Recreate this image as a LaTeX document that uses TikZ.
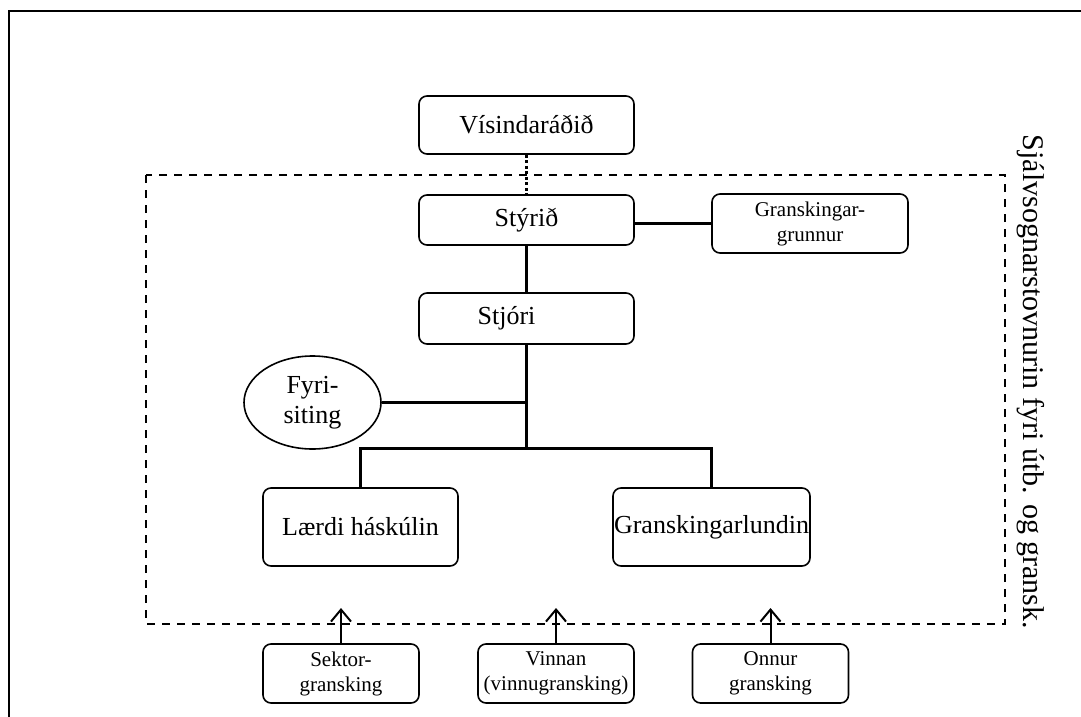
\documentclass[tikz,border=0pt]{standalone}
\usepackage{fontspec}
\setmainfont{Liberation Serif}
\usetikzlibrary{shapes.geometric,arrows.meta}
\begin{document}
\begin{tikzpicture}[x=1pt,y=-1pt,
  box/.style={draw, rounded corners=8pt, line width=1.6pt, inner sep=0pt, align=center},
  big/.style={font=\fontsize{26}{30}\selectfont},
  small/.style={font=\fontsize{21}{25}\selectfont},
  conn/.style={line width=3pt},
  feed/.style={line width=2pt, -{Straight Barb[length=12pt,width=20pt,line width=2pt]}}
]
\useasboundingbox (0,0) rectangle (1081,717);
% outer frame
\draw[line width=2pt] (9,717) -- (9,11) -- (1081,11);
% dashed boundary
\draw[line width=2pt, dash pattern=on 8pt off 7pt] (146,175) rectangle (1005,624);
% nodes
\node[box, big, minimum width=215pt, minimum height=58pt] (vis) at (526.5,125) {Vísindaráðið};
\node[box, big, minimum width=215pt, minimum height=50pt] (styrid) at (526.5,220) {Stýrið};
\node[box, small, minimum width=196pt, minimum height=59pt] (grunnur) at (810,223.5) {Granskingar-\\grunnur};
\node[box, big, minimum width=215pt, minimum height=51pt] (stjori) at (526.5,318.5) {\hspace*{-40pt}Stjóri};
\node[draw, ellipse, line width=1.6pt, inner sep=0pt, align=center, big, minimum width=137pt, minimum height=93pt] (fyri) at (312.5,402.5) {Fyri-\\siting};
\node[box, big, minimum width=195pt, minimum height=78pt] (laerdi) at (360.5,527) {Lærdi háskúlin};
\node[box, big, minimum width=197pt, minimum height=78pt] (lundin) at (711.5,527) {Granskingarlundin};
\node[box, small, minimum width=156pt, minimum height=59pt] (sektor) at (341,673.5) {Sektor-\\gransking};
\node[box, small, minimum width=156pt, minimum height=59pt] (vinnan) at (556,673.5) {Vinnan\\(vinnugransking)};
\node[box, small, minimum width=156pt, minimum height=59pt] (onnur) at (770.5,673.5) {Onnur\\gransking};
\node[font=\fontsize{30}{34}\selectfont, rotate=-90] (title) at (1031,382) {Sjálvsognarstovnurin fyri útb. og gransk.};
% junctions
\coordinate (jfyri) at (526.5,402.5);
\coordinate (jbus) at (526.5,448);
\coordinate (busL) at (360.5,448);
\coordinate (busR) at (711.5,448);
\coordinate (tipS) at (341,608);
\coordinate (tipV) at (556,608);
\coordinate (tipO) at (770.5,608);
% connectors
\draw[line width=3pt, dash pattern=on 3pt off 2.5pt] (vis.south) -- (styrid.north);
\draw[conn] (styrid.east |- grunnur.west) -- (grunnur.west);
\draw[conn] (styrid.south) -- (stjori.north);
\draw[conn] (stjori.south) -- (jbus);
\draw[conn] (fyri.east) -- (jfyri);
\draw[conn] (laerdi.north) -- (busL) -- (busR) -- (lundin.north);
\draw[feed] (sektor.north) -- (tipS);
\draw[feed] (vinnan.north) -- (tipV);
\draw[feed] (onnur.north) -- (tipO);
\end{tikzpicture}
\end{document}
